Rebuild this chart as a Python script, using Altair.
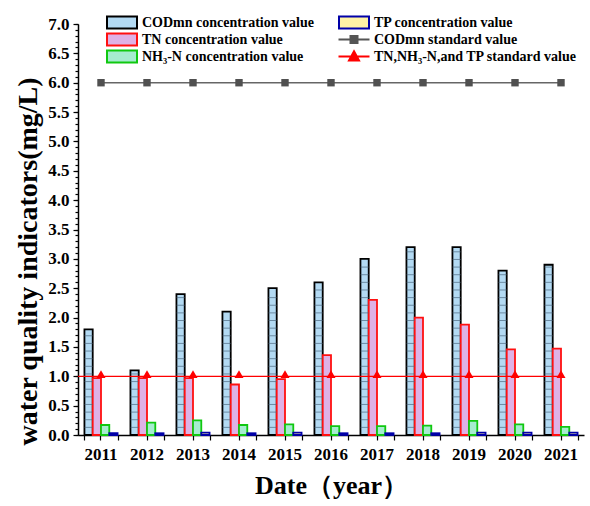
import altair as alt
import pandas as pd

years = ["2011", "2012", "2013", "2014", "2015", "2016", "2017", "2018", "2019", "2020", "2021"]
cod = [1.8, 1.1, 2.4, 2.1, 2.5, 2.6, 3.0, 3.2, 3.2, 2.8, 2.9]
tn = [0.97, 0.97, 0.97, 0.86, 0.95, 1.36, 2.3, 2.0, 1.88, 1.46, 1.47]
nh3 = [0.17, 0.21, 0.25, 0.17, 0.18, 0.15, 0.15, 0.16, 0.24, 0.18, 0.14]
tp = [0.03, 0.03, 0.04, 0.03, 0.04, 0.03, 0.03, 0.03, 0.04, 0.04, 0.04]
cod_std = 6.0
tn_std = 1.0

S_COD = "CODmn concentration value"
S_TN = "TN concentration value"
S_NH3 = "NH\u2083-N concentration value"
S_TP = "TP concentration value"
S_CODSTD = "CODmn standard value"
S_TNSTD = "TN,NH\u2083-N,and TP standard value"

bar_order = [S_COD, S_TN, S_NH3, S_TP]
legend_order = [S_COD, S_TN, S_NH3, S_TP, S_CODSTD, S_TNSTD]
fill_range = ["#b3daf3", "#deb2e6", "#a6ecd0", "#fff3a6", "#555555", "#ff0000"]
stroke_range = ["#000000", "#ff1010", "#10c810", "#0000a8", "#555555", "#ff0000"]

RECT = "M-3,-1.2H3V1.2H-3Z"
LINE_SQ = "M-3.1,0H3.1M-0.7,-0.7H0.7V0.7H-0.7Z"
LINE_TRI = "M-3.1,0H3.1M0,-1.04L1,0.78L-1,0.78Z"
shape_range = [RECT, RECT, RECT, RECT, LINE_SQ, LINE_TRI]

major_ticks = [round(0.5 * i, 1) for i in range(15)]
minor_ticks = [round(0.1 * i, 1) for i in range(71)]
stripe_step = 0.13

rows = []
for i, yr in enumerate(years):
    for s, v in zip(bar_order, [cod[i], tn[i], nh3[i], tp[i]]):
        rows.append({"year": yr, "series": s, "value": v})
bars_df = pd.DataFrame(rows)

stripe_rows = []
for i, yr in enumerate(years):
    k = 1
    while k * stripe_step < cod[i] - 0.03:
        stripe_rows.append({"year": yr, "series": S_COD, "value": round(k * stripe_step, 3)})
        k += 1
stripes_df = pd.DataFrame(stripe_rows)

std_df = pd.DataFrame({"year": years, "cod_std": [cod_std] * len(years), "tn_std": [tn_std] * len(years)})
last_df = pd.DataFrame({"year": [years[-1]], "tn_std": [tn_std]})
legend_df = pd.DataFrame({"year": [years[0]] * len(legend_order), "series": legend_order, "value": [0.0] * len(legend_order)})

FONT = "Liberation Serif"

xscale = alt.Scale(domain=years, paddingInner=0.28, paddingOuter=0.14)
yscale = alt.Scale(domain=[0, 7], nice=False)
fill_scale = alt.Scale(domain=legend_order, range=fill_range)
stroke_scale = alt.Scale(domain=legend_order, range=stroke_range)
shape_scale = alt.Scale(domain=legend_order, range=shape_range)

legend = alt.Legend(
    title=None,
    orient="none",
    legendX=37,
    legendY=-8.5,
    columns=2,
    columnPadding=20,
    rowPadding=-4.7,
    symbolSize=100,
    symbolStrokeWidth=2,
    labelOffset=13,
    labelFont=FONT,
    labelFontSize=14,
    labelFontWeight="bold",
    labelColor="#000000",
    labelLimit=400,
    padding=0,
)

x_axis_main = alt.Axis(title="Date\uff08year\uff09", labelAngle=0, tickSize=5,
                       labelPadding=6, titlePadding=10, orient="bottom")
x_axis_minor = alt.Axis(title=None, labels=False, domain=False, tickSize=5, tickBand="extent",
                        orient="bottom")
y_axis_main = alt.Axis(title="water quality indicators(mg/L)", values=major_ticks, format=".1f",
                       tickSize=5, labelPadding=4, titlePadding=5, titleY=237, grid=False, orient="left")
y_axis_minor = alt.Axis(title=None, values=minor_ticks, labels=False, domain=False, tickSize=3,
                        grid=False, orient="left")

xoff = alt.XOffset("series:N", sort=bar_order, scale=alt.Scale(domain=bar_order, paddingInner=0, paddingOuter=0))

bars = alt.Chart(bars_df).mark_bar(strokeWidth=1.8).encode(
    x=alt.X("year:N", scale=xscale, sort=years, axis=x_axis_main),
    xOffset=xoff,
    y=alt.Y("value:Q", scale=yscale, axis=y_axis_main),
    fill=alt.Fill("series:N", scale=fill_scale, legend=legend),
    stroke=alt.Stroke("series:N", scale=stroke_scale, legend=legend),
)

stripes = alt.Chart(stripes_df).mark_tick(color="#4f6a80", thickness=1, size=8).encode(
    x=alt.X("year:N", scale=xscale, sort=years, axis=x_axis_minor),
    xOffset=xoff,
    y=alt.Y("value:Q", scale=yscale, axis=y_axis_minor),
)

cod_line = alt.Chart(std_df).mark_line(color="#666666", strokeWidth=1.6).encode(
    x=alt.X("year:N", scale=xscale, sort=years, axis=None),
    y=alt.Y("cod_std:Q", scale=yscale, axis=None),
)
cod_pts = alt.Chart(std_df).mark_point(shape="square", filled=True, size=55, color="#505050", opacity=1).encode(
    x=alt.X("year:N", scale=xscale, sort=years, axis=None),
    y=alt.Y("cod_std:Q", scale=yscale, axis=None),
)
tn_rule = alt.Chart(last_df).mark_rule(color="#ff0000", strokeWidth=1.3).encode(
    x=alt.X("year:N", scale=xscale, sort=years, axis=None),
    x2=alt.value(0),
    y=alt.Y("tn_std:Q", scale=yscale, axis=None),
)
tn_pts = alt.Chart(std_df).mark_point(shape="M0,-1.25L0.95,0.35L-0.95,0.35Z", filled=True, size=90,
                                      color="#ff0000", opacity=1).encode(
    x=alt.X("year:N", scale=xscale, sort=years, axis=None),
    y=alt.Y("tn_std:Q", scale=yscale, axis=None),
)

legend_layer = alt.Chart(legend_df).transform_filter("false").mark_point(filled=True, opacity=1, strokeWidth=2).encode(
    x=alt.X("year:N", scale=xscale, sort=years, axis=None),
    y=alt.Y("value:Q", scale=yscale, axis=None),
    fill=alt.Fill("series:N", scale=fill_scale, legend=legend),
    stroke=alt.Stroke("series:N", scale=stroke_scale, legend=legend),
    shape=alt.Shape("series:N", scale=shape_scale, legend=legend),
)

chart = alt.layer(bars, stripes, cod_line, cod_pts, tn_rule, tn_pts, legend_layer).resolve_axis(
    x="independent", y="independent"
).properties(
    width=506, height=411,
    autosize=alt.AutoSizeParams(type="none"),
    padding={"left": 78, "top": 24, "right": 6, "bottom": 71},
).configure_view(stroke=None).configure_axis(
    domainColor="#000000", domainWidth=1.5, tickColor="#000000", tickWidth=1.2,
    labelFont=FONT, labelFontSize=17, labelFontWeight="bold", labelColor="#000000",
    titleFont=FONT, titleFontWeight="bold", titleColor="#000000",
).configure_axisY(titleFontSize=28).configure_axisX(titleFontSize=26)

chart.save("out.html", embed_options={"renderer": "svg", "actions": False})
